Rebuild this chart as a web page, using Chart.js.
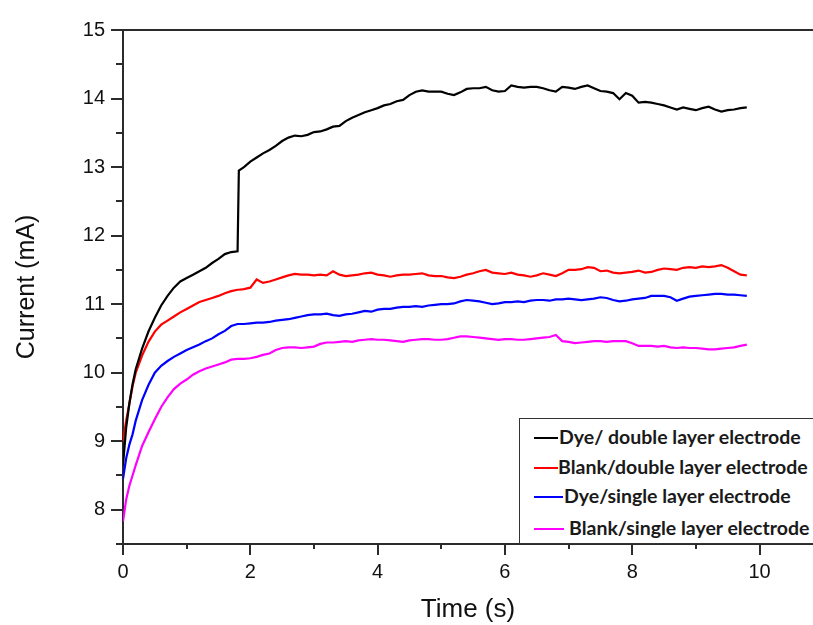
<!DOCTYPE html>
<html>
<head>
<meta charset="utf-8">
<script src="https://cdn.jsdelivr.net/npm/chart.js@4.4.0/dist/chart.umd.min.js"></script>
<style>
  html, body { margin: 0; padding: 0; background: #fff; overflow: hidden; }
  #wrap { position: relative; width: 813px; height: 625px; }
  #legendBox {
    position: absolute; left: 519px; top: 418px; width: 320px; height: 126px;
    border: 1.5px solid #333; background: #fff; box-sizing: border-box;
    font-family: Lato, "Open Sans", sans-serif; font-weight: bold; font-size: 19.5px; color: #1a1a1a;
  }
  .lg-row { position: absolute; left: 0; height: 20px; white-space: nowrap; }
  .lg-line { position: absolute; top: 9px; height: 2px; }
  .lg-text { position: absolute; top: -2px; line-height: 22px; }
</style>
</head>
<body>
<div id="wrap">
  <canvas id="currentChart" width="813" height="625"></canvas>
  <div id="legendBox"></div>
</div>
<script>
// time axis (s)
const times = [
  0, 0.05, 0.1, 0.15, 0.2,
  0.3, 0.4, 0.5, 0.6, 0.7, 0.8, 0.9, 1.0, 1.1, 1.2, 1.3, 1.4, 1.5, 1.6, 1.7, 1.8,
  1.82, 1.9,
  2.0, 2.1, 2.2, 2.3, 2.4, 2.5, 2.6, 2.7, 2.8, 2.9,
  3.0, 3.1, 3.2, 3.3, 3.4, 3.5, 3.6, 3.7, 3.8, 3.9,
  4.0, 4.1, 4.2, 4.3, 4.4, 4.5, 4.6, 4.7, 4.8, 4.9,
  5.0, 5.1, 5.2, 5.3, 5.4, 5.5, 5.6, 5.7, 5.8, 5.9,
  6.0, 6.1, 6.2, 6.3, 6.4, 6.5, 6.6, 6.7, 6.8, 6.9,
  7.0, 7.1, 7.2, 7.3, 7.4, 7.5, 7.6, 7.7, 7.8, 7.9,
  8.0, 8.1, 8.2, 8.3, 8.4, 8.5, 8.6, 8.7, 8.8, 8.9,
  9.0, 9.1, 9.2, 9.3, 9.4, 9.5, 9.6, 9.7, 9.8
];

// current (mA)
const dyeDouble = [
  8.65, 9.2, 9.55, 9.83, 10.05,
  10.35, 10.6, 10.8, 10.98, 11.12, 11.24, 11.33, 11.38, 11.43, 11.48, 11.53, 11.6, 11.66, 11.73, 11.76, 11.77,
  12.95, 13.0,
  13.08, 13.14, 13.2, 13.25, 13.31, 13.38, 13.43, 13.46, 13.45, 13.47,
  13.51, 13.52, 13.55, 13.59, 13.6, 13.67, 13.72, 13.76, 13.8, 13.83,
  13.86, 13.9, 13.92, 13.96, 13.98, 14.05, 14.1, 14.12, 14.1, 14.1,
  14.1, 14.07, 14.05, 14.09, 14.14, 14.15, 14.15, 14.17, 14.12, 14.1,
  14.11, 14.19, 14.17, 14.16, 14.17, 14.17, 14.15, 14.12, 14.1, 14.17,
  14.16, 14.14, 14.17, 14.19, 14.15, 14.11, 14.1, 14.08, 13.99, 14.08,
  14.04, 13.94, 13.95, 13.94, 13.92, 13.9, 13.87, 13.84, 13.87, 13.85,
  13.83, 13.86, 13.88, 13.84, 13.81, 13.83, 13.84, 13.86, 13.87
];

const blankDouble = [
  9.0, 9.3, 9.55, 9.8, 10.0,
  10.25, 10.45, 10.6, 10.7, 10.76, 10.82, 10.88, 10.93, 10.98, 11.03, 11.06, 11.09, 11.12, 11.16, 11.19, 11.21,
  11.21, 11.22,
  11.24, 11.36, 11.31, 11.33, 11.36, 11.39, 11.42, 11.44, 11.43, 11.43,
  11.42, 11.43, 11.42, 11.48, 11.43, 11.41, 11.42, 11.43, 11.45, 11.46,
  11.43, 11.42, 11.4, 11.42, 11.43, 11.43, 11.44, 11.45, 11.42, 11.41,
  11.41, 11.39, 11.38, 11.4, 11.43, 11.45, 11.48, 11.5, 11.46, 11.45,
  11.44, 11.46, 11.43, 11.42, 11.4, 11.42, 11.45, 11.43, 11.41, 11.45,
  11.5, 11.5, 11.51, 11.54, 11.53, 11.48, 11.49, 11.46, 11.45, 11.46,
  11.47, 11.49, 11.46, 11.47, 11.5, 11.52, 11.51, 11.5, 11.53, 11.54,
  11.53, 11.55, 11.54, 11.55, 11.57, 11.53, 11.48, 11.43, 11.42
];

const dyeSingle = [
  8.45, 8.75, 8.95, 9.1, 9.3,
  9.6, 9.82, 10.0, 10.1, 10.17, 10.23, 10.28, 10.33, 10.37, 10.41, 10.46, 10.5, 10.56, 10.61, 10.68, 10.71,
  10.71, 10.71,
  10.72, 10.73, 10.73, 10.74, 10.76, 10.77, 10.78, 10.8, 10.82, 10.84,
  10.85, 10.85, 10.86, 10.84, 10.83, 10.85, 10.86, 10.88, 10.9, 10.89,
  10.92, 10.93, 10.93, 10.95, 10.96, 10.96, 10.97, 10.96, 10.98, 10.99,
  11.0, 11.0, 11.01, 11.04, 11.06, 11.05, 11.04, 11.02, 11.0, 11.01,
  11.03, 11.03, 11.04, 11.03, 11.05, 11.06, 11.06, 11.05, 11.07, 11.07,
  11.08, 11.07, 11.06, 11.07, 11.08, 11.1, 11.09, 11.06, 11.04, 11.05,
  11.07, 11.08, 11.09, 11.12, 11.12, 11.12, 11.1, 11.05, 11.08, 11.11,
  11.12, 11.13, 11.14, 11.15, 11.15, 11.14, 11.14, 11.13, 11.12
];

const blankSingle = [
  7.83, 8.15, 8.35, 8.5, 8.65,
  8.93, 9.13, 9.32, 9.5, 9.64, 9.76, 9.84, 9.9, 9.97, 10.02, 10.06, 10.09, 10.12, 10.15, 10.19, 10.2,
  10.2, 10.2,
  10.21, 10.23, 10.26, 10.28, 10.33, 10.36, 10.37, 10.37, 10.36, 10.37,
  10.38, 10.42, 10.44, 10.44, 10.45, 10.46, 10.45, 10.47, 10.48, 10.49,
  10.48, 10.48, 10.47, 10.46, 10.45, 10.47, 10.48, 10.49, 10.49, 10.48,
  10.48, 10.49, 10.51, 10.53, 10.53, 10.52, 10.51, 10.5, 10.49, 10.48,
  10.49, 10.49, 10.48, 10.48, 10.49, 10.5, 10.51, 10.52, 10.55, 10.46,
  10.45, 10.43, 10.44, 10.45, 10.46, 10.46, 10.45, 10.46, 10.46, 10.46,
  10.43, 10.39, 10.39, 10.39, 10.38, 10.39, 10.37, 10.36, 10.37, 10.36,
  10.36, 10.35, 10.34, 10.34, 10.35, 10.36, 10.37, 10.39, 10.41
];

const seriesLabels = [
  'Dye/ double layer electrode',
  'Blank/double layer electrode',
  'Dye/single layer electrode',
  'Blank/single layer electrode'
];
const seriesColors = ['#000000', '#ff0000', '#0000ff', '#ff00ff'];
const seriesValues = [dyeDouble, blankDouble, dyeSingle, blankSingle];

const axisColor = '#2b2b2b';
const textColor = '#111';

/**
 * Cadre du haut + graduations majeures/mineures (vers l'extérieur)
 */
const frameTicks = {
  id: 'frameTicks',
  afterDraw(chart) {
    const { ctx, chartArea, scales } = chart;
    const x = scales.x, y = scales.y;
    ctx.save();
    ctx.strokeStyle = axisColor;
    ctx.lineWidth = 2;
    ctx.beginPath();
    ctx.moveTo(chartArea.left - 1, chartArea.top);
    ctx.lineTo(chartArea.right, chartArea.top);
    ctx.stroke();

    ctx.beginPath();
    for (let v = 7.5; v <= 15; v += 0.5) {
      const py = Math.round(y.getPixelForValue(v));
      const len = Number.isInteger(v) ? 12 : 7;
      ctx.moveTo(chartArea.left, py);
      ctx.lineTo(chartArea.left - len, py);
    }
    for (let t = 0; t <= 10; t += 1) {
      const px = Math.round(x.getPixelForValue(t));
      const len = t % 2 === 0 ? 11 : 5;
      ctx.moveTo(px, chartArea.bottom);
      ctx.lineTo(px, chartArea.bottom + len);
    }
    ctx.stroke();
    ctx.restore();
  }
};

const datasets = seriesValues.map((vals, i) => ({
  label: seriesLabels[i],
  data: times.map((t, k) => ({ x: t, y: vals[k] })),
  borderColor: seriesColors[i],
  backgroundColor: seriesColors[i],
  borderWidth: 2.2,
  pointRadius: 0,
  tension: 0,
  fill: false
}));

const chart = new Chart(document.getElementById('currentChart'), {
  type: 'line',
  data: { datasets: datasets },
  options: {
    responsive: false,
    animation: false,
    layout: { padding: { top: 24, right: 0, left: 0, bottom: 0 } },
    plugins: {
      legend: { display: false },
      tooltip: { enabled: false }
    },
    scales: {
      x: {
        type: 'linear',
        min: 0,
        max: 10.84,
        afterFit(scale) { scale.height = 81; },
        border: { display: true, color: axisColor, width: 2 },
        grid: { display: false, drawTicks: false },
        ticks: {
          stepSize: 2,
          includeBounds: false,
          padding: 16,
          color: textColor,
          font: { family: '"Liberation Sans", Arial, sans-serif', size: 20 }
        },
        title: {
          display: true,
          text: 'Time (s)',
          color: textColor,
          padding: { top: 0, bottom: 0 },
          font: { family: '"Liberation Sans", Arial, sans-serif', size: 26 }
        }
      },
      y: {
        min: 7.5,
        max: 15,
        afterFit(scale) { scale.width = 123; },
        border: { display: true, color: axisColor, width: 2 },
        grid: { display: false, drawTicks: false },
        ticks: {
          stepSize: 1,
          includeBounds: false,
          padding: 18,
          color: textColor,
          font: { family: '"Liberation Sans", Arial, sans-serif', size: 20 }
        },
        title: {
          display: true,
          text: 'Current (mA)',
          color: textColor,
          padding: { top: 12, bottom: 0 },
          font: { family: '"Liberation Sans", Arial, sans-serif', size: 25 }
        }
      }
    }
  },
  plugins: [frameTicks]
});

// Légende manuelle dans le coin bas-droit
const legendOffsets = [
  { top: 9, lineL: 14, lineW: 24, textL: 39 },
  { top: 39, lineL: 14, lineW: 24, textL: 38 },
  { top: 68, lineL: 14, lineW: 29, textL: 44 },
  { top: 100, lineL: 14, lineW: 30, textL: 49 }
];
const legendBox = document.getElementById('legendBox');
chart.data.datasets.forEach((ds, i) => {
  const o = legendOffsets[i];
  const row = document.createElement('div');
  row.className = 'lg-row';
  row.style.top = o.top + 'px';
  const line = document.createElement('span');
  line.className = 'lg-line';
  line.style.left = o.lineL + 'px';
  line.style.width = o.lineW + 'px';
  line.style.background = ds.borderColor;
  const text = document.createElement('span');
  text.className = 'lg-text';
  text.style.left = o.textL + 'px';
  text.textContent = ds.label;
  row.appendChild(line);
  row.appendChild(text);
  legendBox.appendChild(row);
});
</script>
</body>
</html>
